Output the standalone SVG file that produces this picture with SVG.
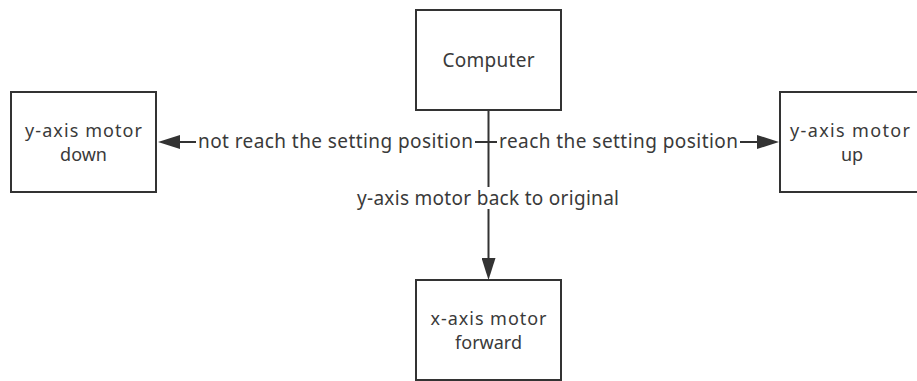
<svg xmlns="http://www.w3.org/2000/svg" width="917" height="381" viewBox="0 0 917 381">
  <style>
    .box { fill: #ffffff; stroke: #333333; stroke-width: 2; }
    .wire { fill: none; stroke: #333333; stroke-width: 2; }
    .txt { font-family: "Noto Sans", "Open Sans", sans-serif; font-size: 19px; fill: #3a3a3a; text-anchor: middle; }
    .small { font-size: 18px; }
    .bg { fill: #ffffff; }
  </style>
  <defs>
    <marker id="arrow" markerUnits="userSpaceOnUse" markerWidth="22" markerHeight="14" refX="0" refY="7" orient="auto">
      <path d="M0,0 L22,7 L0,14 Z" fill="#333333"/>
    </marker>
  </defs>

  <rect width="917" height="381" fill="#ffffff"/>

  <!-- connectors -->
  <g id="connectors">
    <path class="wire" d="M488.5,110 L488.5,142 L180,142" marker-end="url(#arrow)"/>
    <path class="wire" d="M488.5,142 L757,142" marker-end="url(#arrow)"/>
    <path class="wire" d="M488.5,142 L488.5,258" marker-end="url(#arrow)"/>

    <rect class="bg" x="196" y="131" width="279" height="22"/>
    <text class="txt" x="335.5" y="148" textLength="275" lengthAdjust="spacing">not reach the setting position</text>

    <rect class="bg" x="497" y="131" width="243" height="22"/>
    <text class="txt" x="618.5" y="148" textLength="239" lengthAdjust="spacing">reach the setting position</text>

    <rect class="bg" x="354" y="187" width="268" height="22"/>
    <text class="txt" x="488" y="205" textLength="262" lengthAdjust="spacing">y-axis motor back to original</text>
  </g>

  <g id="computer">
    <rect class="box" x="416" y="10" width="145" height="100"/>
    <text class="txt" x="488.5" y="67" textLength="92" lengthAdjust="spacing">Computer</text>
  </g>

  <g id="y-motor-down">
    <rect class="box" x="11" y="92" width="145" height="100"/>
    <text class="txt small" x="83.5" y="137" textLength="117" lengthAdjust="spacing">y-axis motor</text>
    <text class="txt small" x="83.5" y="161">down</text>
  </g>

  <g id="y-motor-up">
    <rect class="box" x="780" y="92" width="145" height="100"/>
    <text class="txt small" x="850" y="137" textLength="120" lengthAdjust="spacing">y-axis motor</text>
    <text class="txt small" x="852" y="161">up</text>
  </g>

  <g id="x-motor-forward">
    <rect class="box" x="416" y="280" width="145" height="100"/>
    <text class="txt small" x="488.5" y="325" textLength="116" lengthAdjust="spacing">x-axis motor</text>
    <text class="txt small" x="488.5" y="349">forward</text>
  </g>
</svg>
